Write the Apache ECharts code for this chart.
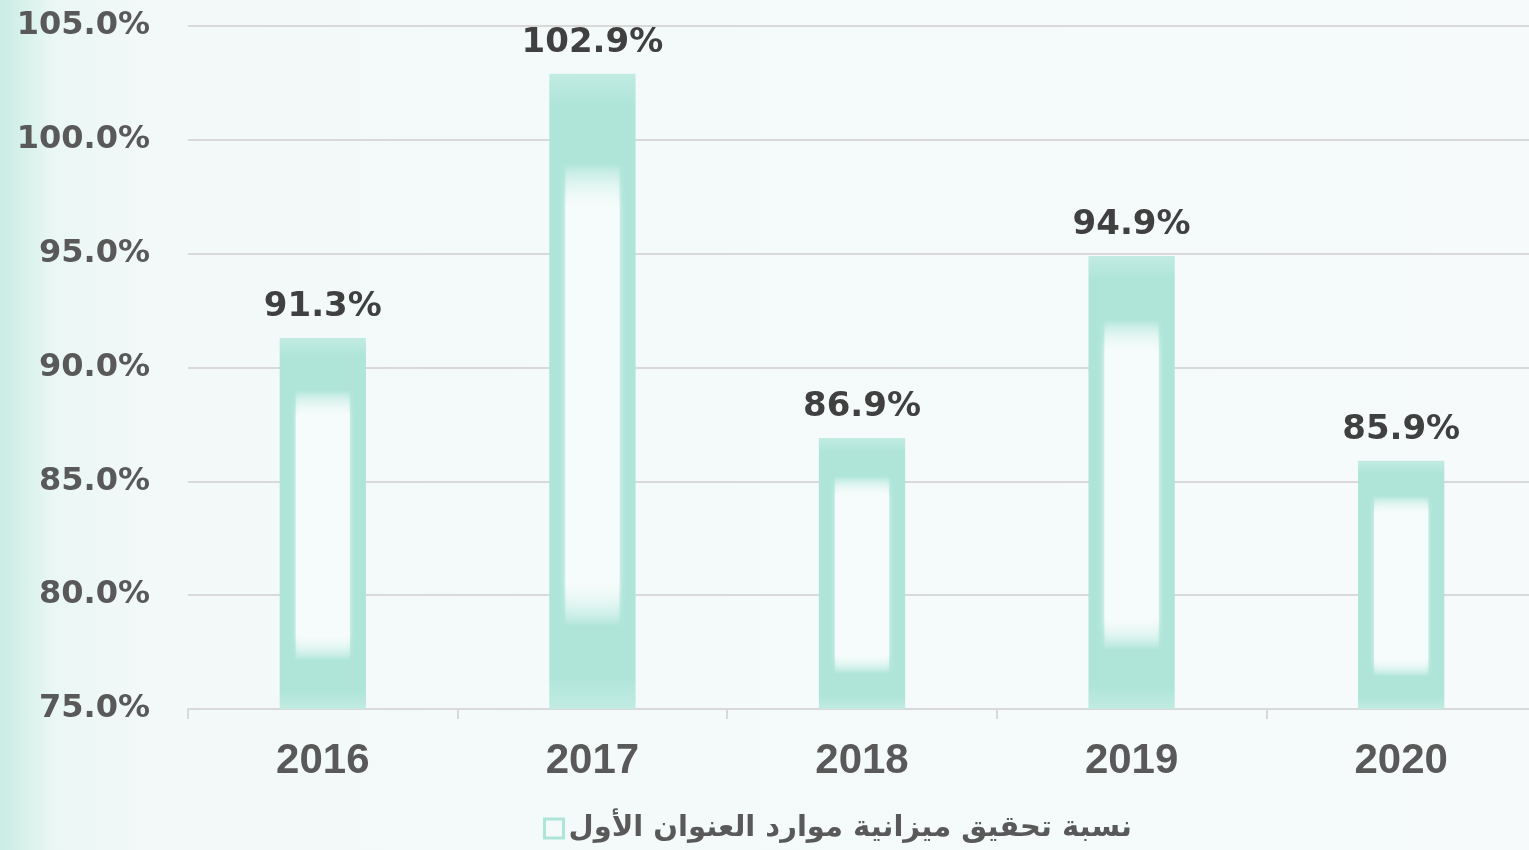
<!DOCTYPE html>
<html>
<head>
<meta charset="utf-8">
<script src="https://cdn.jsdelivr.net/npm/echarts@6/dist/echarts.min.js"></script>
<style>
  html, body { margin: 0; padding: 0; }
  #chart { width: 1529px; height: 850px; }
</style>
</head>
<body>
<div id="chart"></div>
<script>
var years = ['2016', '2017', '2018', '2019', '2020'];
var ratio = [91.3, 102.9, 86.9, 94.9, 85.9];
var seriesName = 'نسبة تحقيق ميزانية موارد العنوان الأول';
var yMin = 75, yMax = 105, yStep = 5;

var teal = '#afe5d9';
var paper = '#f4fafa';

var myChart = echarts.init(document.getElementById('chart'));

// soft white core inside each bar
function innerGlow(params, api) {
    var idx = api.value(0);
    var top = api.coord([idx, api.value(1)]);
    var base = api.coord([idx, yMin]);
    var bw = api.size([1, 0])[0] * 0.32;
    var h = base[1] - top[1];
    var inTop = h * 0.14, inBot = h * 0.13;
    return {
        type: 'rect',
        shape: { x: top[0] - bw / 2 + 16, y: top[1] + inTop, width: bw - 32, height: h - inTop - inBot },
        style: {
            fill: new echarts.graphic.LinearGradient(0, 0, 0, 1, [
                { offset: 0, color: 'rgba(246,252,251,0)' },
                { offset: 0.1, color: 'rgba(246,252,251,1)' },
                { offset: 0.9, color: 'rgba(246,252,251,1)' },
                { offset: 1, color: 'rgba(246,252,251,0)' }
            ]),
            shadowBlur: 5,
            shadowColor: 'rgba(246,252,251,0.9)'
        }
    };
}

var option = {
    backgroundColor: new echarts.graphic.LinearGradient(0, 0, 1, 0, [
        { offset: 0, color: '#c9ece4' },
        { offset: 0.035, color: '#eaf7f4' },
        { offset: 0.1, color: '#f3f9f9' },
        { offset: 1, color: '#f6fafa' }
    ]),
    animation: false,
    grid: { left: 188, top: 26, width: 1348, bottom: 141, outerBoundsMode: 'none' },
    legend: {
        bottom: 2,
        left: 538,
        icon: 'rect',
        itemWidth: 19,
        itemHeight: 19,
        itemGap: 10,
        data: [{
            name: seriesName,
            itemStyle: { color: paper, borderColor: teal, borderWidth: 3 }
        }],
        textStyle: { fontFamily: 'DejaVu Sans', fontWeight: 'bold', fontSize: 29, color: '#595959' }
    },
    xAxis: {
        type: 'category',
        data: years,
        axisLine: { lineStyle: { color: '#d9d9d9', width: 2 } },
        axisTick: { show: true, length: 10, lineStyle: { color: '#d9d9d9', width: 2 } },
        axisLabel: {
            margin: 31,
            fontFamily: 'Liberation Sans',
            fontWeight: 'bold',
            fontSize: 42,
            color: '#595959'
        }
    },
    yAxis: {
        type: 'value',
        min: yMin,
        max: yMax,
        interval: yStep,
        axisLine: { show: false },
        axisTick: { show: false },
        splitLine: { lineStyle: { color: '#d9d9d9', width: 2 } },
        axisLabel: {
            margin: 38,
            fontFamily: 'DejaVu Sans',
            fontWeight: 'bold',
            fontSize: 32,
            color: '#595959',
            formatter: function (v) { return v.toFixed(1) + '%'; }
        }
    },
    series: [
        {
            name: seriesName,
            type: 'bar',
            data: ratio,
            barWidth: '32%',
            z: 2,
            itemStyle: {
                color: new echarts.graphic.LinearGradient(0, 0, 0, 1, [
                    { offset: 0, color: '#c2ebe2' },
                    { offset: 0.05, color: teal },
                    { offset: 0.95, color: teal },
                    { offset: 1, color: '#c2ebe2' }
                ])
            },
            label: {
                show: true,
                position: 'top',
                distance: 14,
                fontFamily: 'DejaVu Sans',
                fontWeight: 'bold',
                fontSize: 34,
                color: '#404040',
                formatter: function (p) { return p.value.toFixed(1) + '%'; }
            }
        },
        {
            name: 'glow',
            type: 'custom',
            z: 3,
            silent: true,
            renderItem: innerGlow,
            data: ratio.map(function (v, i) { return [i, v]; })
        }
    ]
};
myChart.setOption(option);
</script>
</body>
</html>
